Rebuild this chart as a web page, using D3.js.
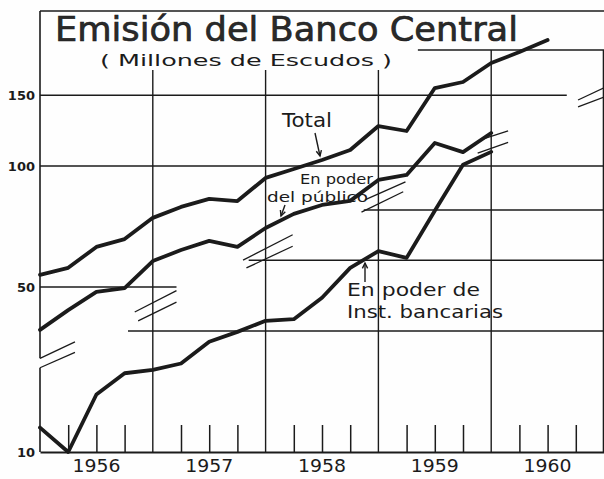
<!DOCTYPE html>
<html><head><meta charset="utf-8">
<script src="https://cdn.jsdelivr.net/npm/d3@7"></script>
<style>html,body{margin:0;padding:0;background:#fff;} svg{display:block;}</style>
</head><body><svg id="c" width="604" height="479"></svg>
<script>
// ---- data (quarterly readings, millones de escudos) ----
const times = [1956.00,1956.25,1956.50,1956.75,1957.00,1957.25,1957.50,1957.75,1958.00,1958.25,1958.50,1958.75,1959.00,1959.25,1959.50,1959.75,1960.00,1960.25,1960.50];
const total = [53.6,55.8,62.9,65.8,74.3,79.1,82.8,81.8,93.4,98.3,103.5,109.6,125.7,122.2,156.3,161.8,180.4,192.1,205.8];
const publico = [39.1,43.8,48.6,49.7,58.0,61.8,65.1,62.9,70.1,76.0,80.0,81.9,92.3,95.0,114.1,108.3,120.8];
const bancarias = [11.5,10.0,13.9,15.7,16.0,16.6,18.8,19.9,21.2,21.4,24.2,28.7,31.6,30.4,39.8,51.8,55.8];
const years = [1956,1957,1958,1959,1960];
const yearLabels = ["1956","1957","1958","1959","1960"];
const upperTicks = [150,100,50];
const lowerTicks = [10];
const minorTicks = [1956.25,1956.5,1956.75,1957.25,1957.5,1957.75,1958.25,1958.5,1958.75,1959.25,1959.5,1959.75,1960.25,1960.5,1960.75];

const INK = "#1b1b1b";
const svg = d3.select("#c");
svg.append("rect").attr("width",604).attr("height",479).attr("fill","#fefefe");

const x = d3.scaleLinear().domain([1956,1961]).range([40,604]);
const yUp = d3.scaleLog().domain([50,100]).range([287,166]);
const yLow = d3.scaleLog().domain([10,100]).range([452,50]);
const topY = 11;
const baseY = yLow(10);

const grid = svg.append("g").attr("stroke",INK).attr("stroke-width",1.4).attr("fill","none");
// horizontal gridlines (segmented as in the original)
const hLines = [
  {s:yUp, v:150, a:1956, b:1960.67},
  {s:yUp, v:100, a:1956, b:1961},
  {s:yUp, v:50,  a:1956, b:1957.21},
  {s:yLow, v:20, a:1956.78, b:1961},
  {s:yLow, v:30, a:1957.85, b:1961},
  {s:yLow, v:40, a:1958.87, b:1961},
  {s:yLow, v:100, a:1959.35, b:1961}
];
hLines.forEach(h=>{
  grid.append("line").attr("x1",x(h.a)).attr("x2",x(h.b)).attr("y1",h.s(h.v)).attr("y2",h.s(h.v));
});
// top border
grid.append("line").attr("x1",x(1956)).attr("x2",x(1961)).attr("y1",topY).attr("y2",topY);
// vertical gridlines at years
years.slice(1).concat([1961]).forEach(yr=>{
  const start = yr>=1960 ? yLow(100) : 70;
  grid.append("line").attr("x1",x(yr)).attr("x2",x(yr)).attr("y1",start).attr("y2",baseY)
    .attr("stroke-width", yr===1961?2.6:1.4);
});
// left axis with break
grid.append("line").attr("x1",x(1956)).attr("x2",x(1956)).attr("y1",topY).attr("y2",yLow(17.1)).attr("stroke-width",1.6);
grid.append("line").attr("x1",x(1956)).attr("x2",x(1956)).attr("y1",yLow(16.2)).attr("y2",baseY).attr("stroke-width",1.6);

// break marks (pairs of slashes), in time / lower-scale units
const breaks = [
  [[1956,17.1,1956.31,18.8],[1956,16.2,1956.31,17.7]],
  [[1956.84,22.3,1957.21,25.2],[1956.87,21.2,1957.21,23.6]],
  [[1957.80,30.0,1958.24,34.7],[1957.83,28.7,1958.24,32.5]],
  [[1958.85,39.5,1959.22,44.4],[1958.88,42.4,1959.24,47.0]],
  [[1959.93,60.1,1960.15,62.9],[1959.88,55.4,1960.15,58.9]],
  [[1960.77,75.1,1961,80.5],[1960.77,72.2,1961,76.4]]
];
breaks.forEach(pair=>pair.forEach(s=>{
  grid.append("line").attr("x1",x(s[0])).attr("y1",yLow(s[1])).attr("x2",x(s[2])).attr("y2",yLow(s[3])).attr("stroke-width",1.3);
}));

// bottom axis with quarter ticks
const xAxis = svg.append("g").attr("transform",`translate(0,${baseY})`)
  .call(d3.axisBottom(x).tickValues(minorTicks).tickSize(-27).tickSizeOuter(0).tickFormat(""));
xAxis.selectAll("path,line").attr("stroke",INK).attr("stroke-width",1.5);
xAxis.select(".domain").attr("stroke-width",1.8);

// year labels (centered in each year)
svg.append("g").selectAll("text").data(years).join("text")
  .attr("x",d=>x(d+0.5)).attr("y",472).attr("text-anchor","middle")
  .attr("font-family","DejaVu Sans").attr("font-size",17).attr("fill",INK)
  .attr("textLength",48).attr("lengthAdjust","spacingAndGlyphs")
  .text((d,i)=>yearLabels[i]);

// y labels
const yAxUp = svg.append("g").attr("transform",`translate(${x(1956)},0)`)
  .call(d3.axisLeft(yUp).tickValues(upperTicks).tickSize(0).tickPadding(5).tickFormat(d3.format("d")));
const yAxLow = svg.append("g").attr("transform",`translate(${x(1956)},0)`)
  .call(d3.axisLeft(yLow).tickValues(lowerTicks).tickSize(0).tickPadding(5).tickFormat(d3.format("d")));
[yAxUp,yAxLow].forEach(g=>{
  g.select(".domain").remove();
  g.selectAll("text").attr("font-family","DejaVu Sans").attr("font-size",13).attr("font-weight","bold").attr("fill",INK);
});

// series lines
const lineUp = d3.line().x((d,i)=>x(times[i])).y(d=>yUp(d));
const lineLow = d3.line().x((d,i)=>x(times[i])).y(d=>yLow(d));
const lines = svg.append("g").attr("fill","none").attr("stroke",INK).attr("stroke-width",3.8)
  .attr("stroke-linejoin","round").attr("stroke-linecap","round");
lines.append("path").attr("d",lineUp(total));
lines.append("path").attr("d",lineUp(publico));
lines.append("path").attr("d",lineLow(bancarias));

// title
svg.append("text").attr("x",55).attr("y",41).attr("font-family","DejaVu Sans Condensed, DejaVu Sans")
  .attr("font-size",34).attr("fill","#2a2a2a").attr("stroke","#1b1b1b").attr("stroke-width",0.6)
  .attr("textLength",463).attr("lengthAdjust","spacingAndGlyphs").text("Emisión del Banco Central");
svg.append("text").attr("x",100).attr("y",66).attr("font-family","DejaVu Sans")
  .attr("font-size",15).attr("fill",INK)
  .attr("textLength",292).attr("lengthAdjust","spacingAndGlyphs").text("( Millones de Escudos )");

// annotations
const ann = svg.append("g").attr("font-family","DejaVu Sans").attr("fill",INK);
ann.append("text").attr("x",282).attr("y",127).attr("font-size",20).attr("textLength",50).attr("lengthAdjust","spacingAndGlyphs").text("Total");
ann.append("text").attr("x",300).attr("y",184).attr("font-size",14).attr("textLength",73).attr("lengthAdjust","spacingAndGlyphs").text("En poder");
ann.append("text").attr("x",267).attr("y",202).attr("font-size",14).attr("textLength",101).attr("lengthAdjust","spacingAndGlyphs").text("del público");
ann.append("text").attr("x",347).attr("y",296).attr("font-size",17).attr("textLength",133).attr("lengthAdjust","spacingAndGlyphs").text("En poder de");
ann.append("text").attr("x",347).attr("y",318).attr("font-size",17).attr("textLength",156).attr("lengthAdjust","spacingAndGlyphs").text("Inst. bancarias");

const arr = svg.append("g").attr("stroke",INK).attr("stroke-width",1.4).attr("fill","none");
function arrow(x1,y1,x2,y2){
  arr.append("line").attr("x1",x1).attr("y1",y1).attr("x2",x2).attr("y2",y2);
  const a = Math.atan2(y2-y1,x2-x1), L=6;
  arr.append("path").attr("d",`M${x2-L*Math.cos(a-0.45)},${y2-L*Math.sin(a-0.45)}L${x2},${y2}L${x2-L*Math.cos(a+0.45)},${y2-L*Math.sin(a+0.45)}`);
}
arrow(315,133,320,156);
arrow(285,205,281,216);
arrow(365,282,365,263);
</script></body></html>
